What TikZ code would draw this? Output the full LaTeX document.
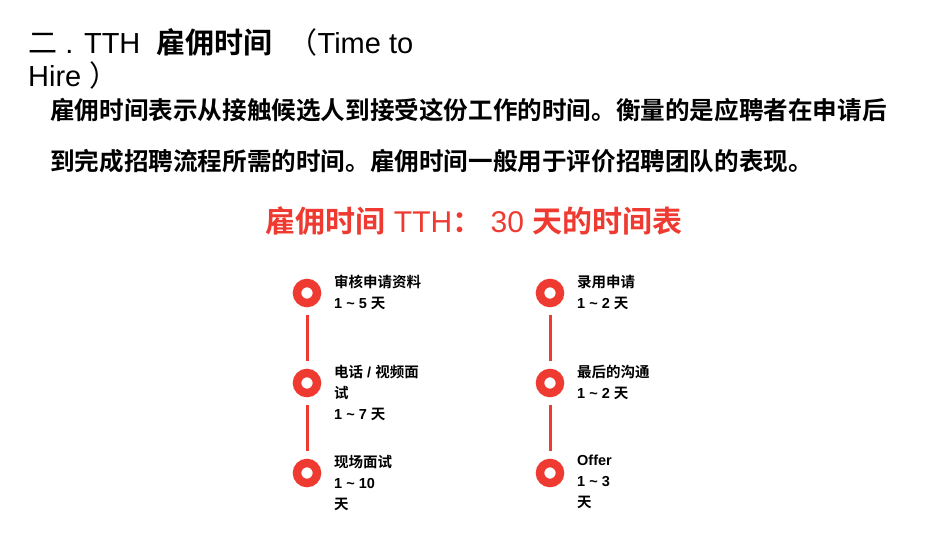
\documentclass[tikz,border=0pt]{standalone}
\usepackage{fontspec}
\setmainfont{Liberation Sans}
\newfontfamily\cjk{Noto Sans CJK SC}[BoldFont={* Bold}]
\definecolor{myred}{RGB}{238,58,48}
\begin{document}
\begin{tikzpicture}[x=1pt,y=-1pt,
  ring/.style={circle,draw=myred,line width=8.5pt,minimum size=20pt,inner sep=0pt},
  conn/.style={draw=myred,line width=3pt},
  lbl/.style={anchor=north west,align=left,font=\fontsize{14.5}{21}\selectfont\bfseries,inner sep=0pt}]
\useasboundingbox (0,0) rectangle (950,535);
\node[anchor=west,inner sep=0pt,font=\fontsize{29}{30}\selectfont] (t1) at (28,42) {{\cjk 二} . TTH\ \ {\cjk\bfseries 雇佣时间}\ \ {\cjk （}Time to};
\node[anchor=west,inner sep=0pt,font=\fontsize{29}{30}\selectfont] (t2) at (28,75) {Hire {\cjk ）}};
\node[anchor=west,inner sep=0pt,font=\fontsize{24.6}{26}\selectfont\cjk\bfseries] (p1) at (50,110) {雇佣时间表示从接触候选人到接受这份工作的时间。衡量的是应聘者在申请后};
\node[anchor=west,inner sep=0pt,font=\fontsize{24.6}{26}\selectfont\cjk\bfseries] (p2) at (50,161) {到完成招聘流程所需的时间。雇佣时间一般用于评价招聘团队的表现。};
\node[inner sep=0pt,text=myred,font=\fontsize{30}{32}\selectfont] (h) at (474,221) {{\cjk\bfseries 雇佣时间} TTH{\cjk\bfseries ：}\ 30 {\cjk\bfseries 天的时间表}};
\foreach \n/\x/\y in {a1/307/293,a2/307/383,a3/307/473,b1/550/293,b2/550/383,b3/550/473}
  \node[ring] (\n) at (\x,\y) {};
\draw[conn] ([yshift=-8pt]a1.south) -- ([yshift=8pt]a2.north);
\draw[conn] ([yshift=-8pt]a2.south) -- ([yshift=8pt]a3.north);
\draw[conn] ([yshift=-8pt]b1.south) -- ([yshift=8pt]b2.north);
\draw[conn] ([yshift=-8pt]b2.south) -- ([yshift=8pt]b3.north);
\node[lbl] (la1) at (334,275) {{\cjk 审核申请资料}\\1 \textasciitilde\ 5 {\cjk 天}};
\node[lbl] (la2) at (334,365) {{\cjk 电话} / {\cjk 视频面}\\{\cjk 试}\\1 \textasciitilde\ 7 {\cjk 天}};
\node[lbl] (la3) at (334,455) {{\cjk 现场面试}\\1 \textasciitilde\ 10\\{\cjk 天}};
\node[lbl] (lb1) at (577,275) {{\cjk 录用申请}\\1 \textasciitilde\ 2 {\cjk 天}};
\node[lbl] (lb2) at (577,365) {{\cjk 最后的沟通}\\1 \textasciitilde\ 2 {\cjk 天}};
\node[lbl] (lb3) at (577,455) {Offer\\1 \textasciitilde\ 3\\{\cjk 天}};
\end{tikzpicture}
\end{document}
